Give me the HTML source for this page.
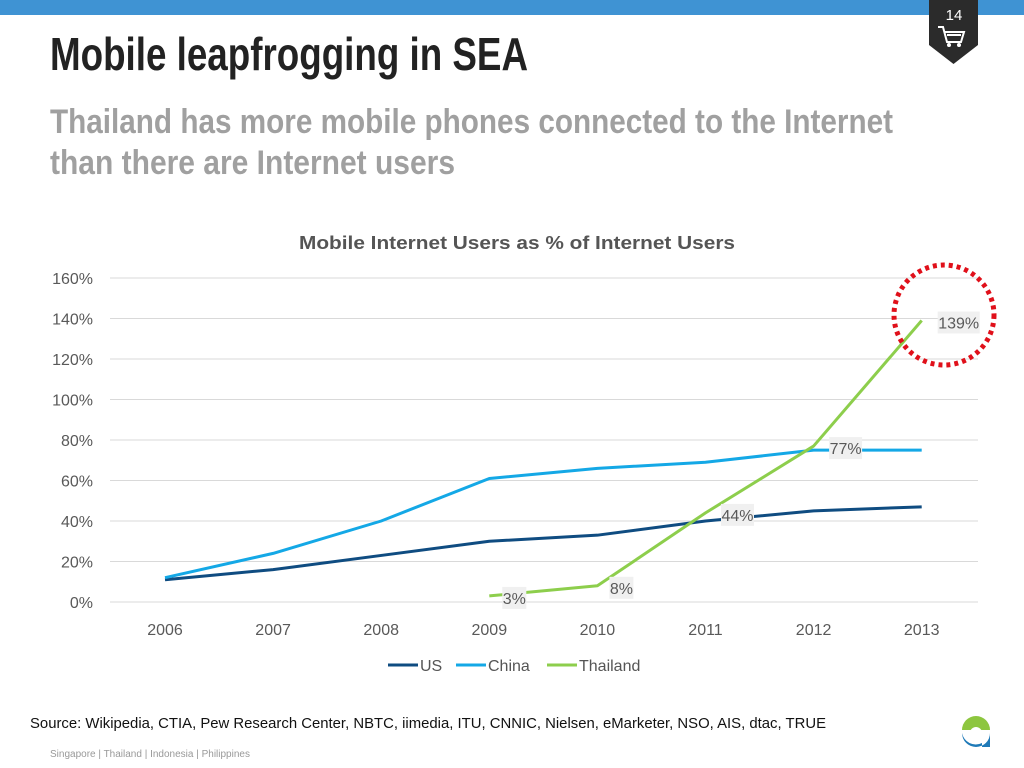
<!DOCTYPE html>
<html><head><meta charset="utf-8"><style>
html,body{margin:0;padding:0;background:#fff;}
svg{display:block;font-family:"Liberation Sans",sans-serif;}
</style></head><body>
<svg id="s" width="1024" height="768" viewBox="0 0 1024 768">
<rect x="0" y="0" width="1024" height="15" fill="#3f93d3"/>
<g>
<path d="M929 0H978V45L953.5 64L929 45Z" fill="#2b2b2b"/>
<text x="954" y="20" font-size="15" fill="#fff" text-anchor="middle">14</text>
<path d="M938 27h5l4 15h14l3-10h-19" fill="none" stroke="#fff" stroke-width="2"/>
<line x1="947" y1="35" x2="961" y2="35" stroke="#fff" stroke-width="2"/>
<circle cx="949" cy="45" r="2" fill="#fff"/><circle cx="959" cy="45" r="2" fill="#fff"/>
</g>
<text x="50" y="70" font-size="46" font-weight="bold" fill="#222" textLength="478" lengthAdjust="spacingAndGlyphs">Mobile leapfrogging in SEA</text>
<text x="50" y="133" font-size="34" font-weight="bold" fill="#a0a0a0" textLength="843" lengthAdjust="spacingAndGlyphs">Thailand has more mobile phones connected to the Internet</text>
<text x="50" y="174" font-size="34" font-weight="bold" fill="#a0a0a0" textLength="405" lengthAdjust="spacingAndGlyphs">than there are Internet users</text>
<text x="517" y="249" font-size="18" font-weight="bold" fill="#555" text-anchor="middle" textLength="436" lengthAdjust="spacingAndGlyphs">Mobile Internet Users as % of Internet Users</text>
<g id="grid"></g><g id="lines"></g><g id="labels"></g>
<circle cx="944" cy="315" r="50" fill="none" stroke="#e0101a" stroke-width="5" stroke-dasharray="4 4"/>
<g>
<line x1="388" y1="665" x2="418" y2="665" stroke="#0f4c81" stroke-width="3"/>
<text x="420" y="671" font-size="16" fill="#555">US</text>
<line x1="456" y1="665" x2="486" y2="665" stroke="#14a8e6" stroke-width="3"/>
<text x="488" y="671" font-size="16" fill="#555">China</text>
<line x1="547" y1="665" x2="577" y2="665" stroke="#8dce4c" stroke-width="3"/>
<text x="579" y="671" font-size="16" fill="#555">Thailand</text>
</g>
<text x="30" y="728" font-size="15" fill="#111" textLength="796" lengthAdjust="spacingAndGlyphs">Source: Wikipedia, CTIA, Pew Research Center, NBTC, iimedia, ITU, CNNIC, Nielsen, eMarketer, NSO, AIS, dtac, TRUE</text>
<text x="50" y="757" font-size="10" fill="#999">Singapore | Thailand | Indonesia | Philippines</text>
<g>
<path d="M962 730a14 14 0 0 1 28 0z" fill="#8dc63f"/>
<path d="M962 733a14 14 0 0 0 28 0v14h-8v-4a14 14 0 0 1 -20 -10z" fill="#1f7ab8"/>
<circle cx="976" cy="733" r="6" fill="#fff"/>
</g>
</svg>
<script>
const years=["2006","2007","2008","2009","2010","2011","2012","2013"];
const yTicks=[0,20,40,60,80,100,120,140,160];
const usVals=[11,16,23,30,33,40,45,47];
const chinaVals=[12,24,40,61,66,69,75,75];
const thaiVals=[null,null,null,3,8,44,77,139];
const thaiLabels=[null,null,null,"3%","8%","44%","77%","139%"];
const NS="http://www.w3.org/2000/svg";
function X(i){return 165+i*108.1;}
function Y(v){return 602-v*(324/160);}
function mk(t,a,p){const e=document.createElementNS(NS,t);for(const k in a)e.setAttribute(k,a[k]);document.getElementById(p).appendChild(e);return e;}
yTicks.forEach(v=>{
 const l=mk('line',{x1:110,x2:978,y1:Y(v),y2:Y(v),stroke:'#d9d9d9','stroke-width':1},'grid');
 
 
 const t=mk('text',{x:93,y:Y(v)+6,'font-size':16,fill:'#595959','text-anchor':'end'},'grid');
 t.textContent=v+'%';
 
 
});
years.forEach((y,i)=>{
 const t=mk('text',{x:X(i),y:635,'font-size':16,fill:'#595959','text-anchor':'middle'},'grid');
 t.textContent=y;
 
 
});
function series(vals,color,name){
 const pts=[];vals.forEach((v,i)=>{if(v!=null)pts.push(X(i)+','+Y(v));});
 const p=mk('polyline',{points:pts.join(' '),fill:'none',stroke:color,'stroke-width':3,'stroke-linejoin':'round'},'lines');
 
 
}
series(usVals,'#0f4c81','us-line');
series(chinaVals,'#14a8e6','china-line');
series(thaiVals,'#8dce4c','thailand-line');
thaiLabels.forEach((s,i)=>{
 if(!s)return;
 const v=thaiVals[i];
 const dx=(i==7?37:(i==3?25:(i==4?24:32)));
 const w=s.length*9+6, cx=X(i)+dx, cy=Y(v)+2;
 const r=mk('rect',{x:cx-w/2,y:cy-11,width:w,height:22,fill:'#f0f0f0'},'labels');
 
 
 const t=mk('text',{x:cx,y:cy+6,'font-size':16,fill:'#595959','text-anchor':'middle'},'labels');
 t.textContent=s;
 
 
});
</script>
</body></html>
